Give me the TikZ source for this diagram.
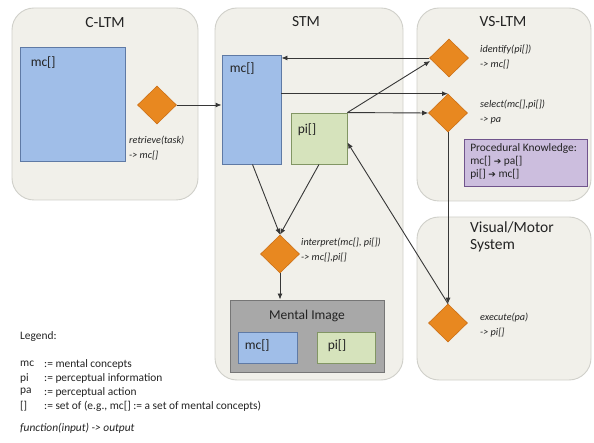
\documentclass[tikz,border=0pt]{standalone}
\usepackage{fontspec}
\setmainfont{Carlito}
\newfontfamily\symfont{DejaVu Sans}
\usetikzlibrary{shapes.geometric,arrows.meta,calc}

\definecolor{boxfill}{RGB}{241,240,234}
\definecolor{boxline}{RGB}{208,208,202}
\definecolor{bluefill}{RGB}{160,190,232}
\definecolor{blueline}{RGB}{95,122,165}
\definecolor{greenfill}{RGB}{214,227,188}
\definecolor{greenline}{RGB}{130,150,100}
\definecolor{orangefill}{RGB}{232,136,32}
\definecolor{orangeline}{RGB}{205,112,22}
\definecolor{purplefill}{RGB}{204,190,222}
\definecolor{purpleline}{RGB}{112,84,140}
\definecolor{greyfill}{RGB}{168,168,168}
\definecolor{greyline}{RGB}{118,118,118}
\definecolor{linecol}{RGB}{55,55,55}
\definecolor{txt}{RGB}{35,35,35}

\tikzset{
  container/.style={draw=boxline, fill=boxfill, rounded corners=22pt, line width=0.9pt},
  conc/.style={draw=blueline, fill=bluefill, line width=0.9pt, inner sep=0pt},
  perc/.style={draw=greenline, fill=greenfill, line width=0.9pt, inner sep=0pt},
  func/.style={diamond, draw=orangeline, fill=orangefill, line width=0.6pt,
               minimum width=39pt, minimum height=38pt, inner sep=0pt},
  title/.style={font=\fontsize{15.5}{17}\selectfont, text=txt},
  boxtxt/.style={anchor=north west, inner sep=0pt, font=\fontsize{13.5}{15}\selectfont, text=txt},
  funclabel/.style={anchor=west, align=left, inner sep=0pt,
                    font=\fontsize{10.2}{14.5}\selectfont\itshape, text=txt},
  legend/.style={anchor=west, inner sep=0pt, font=\fontsize{11.4}{13}\selectfont, text=txt},
  flow/.style={draw=linecol, line width=0.9pt, -{Latex[length=6pt,width=5pt]}}
}

\begin{document}
\begin{tikzpicture}[x=1pt, y=-1pt]
\useasboundingbox (0,0) rectangle (594,443);
\fill[white] (0,0) rectangle (594,443);

% memory stores
\node[container, minimum width=186pt, minimum height=192pt] (cltm) at (105,104) {};
\node[container, minimum width=188pt, minimum height=372pt] (stm) at (309,194) {};
\node[container, minimum width=174pt, minimum height=193pt] (vsltm) at (504,104.5) {};
\node[container, minimum width=174pt, minimum height=163pt] (vms) at (504,298.5) {};

\node[title] (tcltm) at (105,23) {C-LTM};
\node[title] (tstm) at (306,22) {STM};
\node[title] (tvsltm) at (503,22) {VS-LTM};
\node[title, anchor=north west, align=left, inner sep=0pt,
      font=\fontsize{15.5}{16.5}\selectfont] (tvms) at (470,222) {Visual/Motor\\System};

% C-LTM contents
\node[conc, minimum width=105pt, minimum height=114pt] (mcL) at (72.5,104) {};
\node[boxtxt] (mcLt) at ($(mcL.north west)+(11,10)$) {mc[]};
\node[func] (retrieve) at (157,105) {};
\node[funclabel] (retrievet) at (129,148) {retrieve(task)\\-> mc[]};

% STM contents
\node[conc, minimum width=59pt, minimum height=109pt] (mcS) at (251.5,109.5) {};
\node[boxtxt] (mcSt) at ($(mcS.north west)+(8,8)$) {mc[]};
\node[perc, minimum width=56pt, minimum height=51pt] (piS) at (319,138.5) {};
\node[boxtxt] (piSt) at ($(piS.north west)+(7,11)$) {pi[]};
\node[func] (interpret) at (280,254) {};
\node[funclabel] (interprett) at (301,250) {interpret(mc[], pi[])\\-> mc[],pi[]};

\node[draw=greyline, fill=greyfill, line width=0.9pt, minimum width=154pt,
      minimum height=72pt, inner sep=0pt] (mi) at (307,336) {};
\node[font=\fontsize{13.5}{15}\selectfont, text=txt] (mit) at (307,316) {Mental Image};
\node[conc, minimum width=59pt, minimum height=31pt] (mcM) at (267.5,347.5) {};
\node[boxtxt, anchor=west] (mcMt) at ($(mcM.west)+(7,-2)$) {mc[]};
\node[perc, minimum width=58pt, minimum height=31pt] (piM) at (346,347.5) {};
\node[boxtxt, anchor=west] (piMt) at ($(piM.west)+(11,-2)$) {pi[]};

% VS-LTM contents
\node[func] (identify) at (449,58) {};
\node[funclabel] (identifyt) at (480,57) {identify(pi[])\\-> mc[]};
\node[func] (select) at (448,113) {};
\node[funclabel] (selectt) at (480,112) {select(mc[],pi[])\\-> pa};
\node[draw=purpleline, fill=purplefill, line width=0.9pt, minimum width=123pt,
      minimum height=47pt, inner sep=0pt] (pk) at (526,163) {};
\node[anchor=north west, align=left, inner sep=0pt, text=txt,
      font=\fontsize{11.4}{13.2}\selectfont] (pkt) at ($(pk.north west)+(6,4)$)
  {Procedural Knowledge:\\
   mc[] {\symfont\fontsize{9}{10}\selectfont ➔} pa[]\\
   pi[] {\symfont\fontsize{9}{10}\selectfont ➔} mc[]};

% Visual/Motor system contents
\node[func] (execute) at (448,323) {};
\node[funclabel] (executet) at (480,325) {execute(pa)\\-> pi[]};

% information flow
\draw[flow] (retrieve.east) -- (retrieve.east -| mcS.west);
\draw[flow] (identify.west) -- (identify.west -| mcS.east);
\draw[flow] (select.north -| mcS.east) -- (select.north);
\draw[flow] (piS.north east) -- ($(identify.west)+(1,3)$);
\draw[flow] (piS.north east) -- (select.west);
\draw[flow] ($(mcS.south)+(1,0)$) -- (interpret.north);
\draw[flow] (piS.south) -- (interpret.north);
\draw[flow] (interpret.south) -- (interpret.south |- mi.north);
\draw[flow] (select.south) -- (execute.north);
\draw[flow] (execute.north) -- ($(piS.east)+(0,4)$);

% legend
\node[legend] (lg) at (20,337) {Legend:};
\node[legend] (lmc) at (20,364) {mc};
\node[legend] (lmcd) at (44,364) {:= mental concepts};
\node[legend] (lpi) at (20,378) {pi};
\node[legend] (lpid) at (44,378) {:= perceptual information};
\node[legend] (lpa) at (20,392) {pa};
\node[legend] (lpad) at (44,392) {:= perceptual action};
\node[legend] (lset) at (20,406) {[]};
\node[legend] (lsetd) at (44,406) {:= set of (e.g., mc[] := a set of mental concepts)};
\node[legend, font=\fontsize{11.4}{13}\selectfont\itshape] (lfn) at (20,428) {function(input) -> output};
\end{tikzpicture}
\end{document}
